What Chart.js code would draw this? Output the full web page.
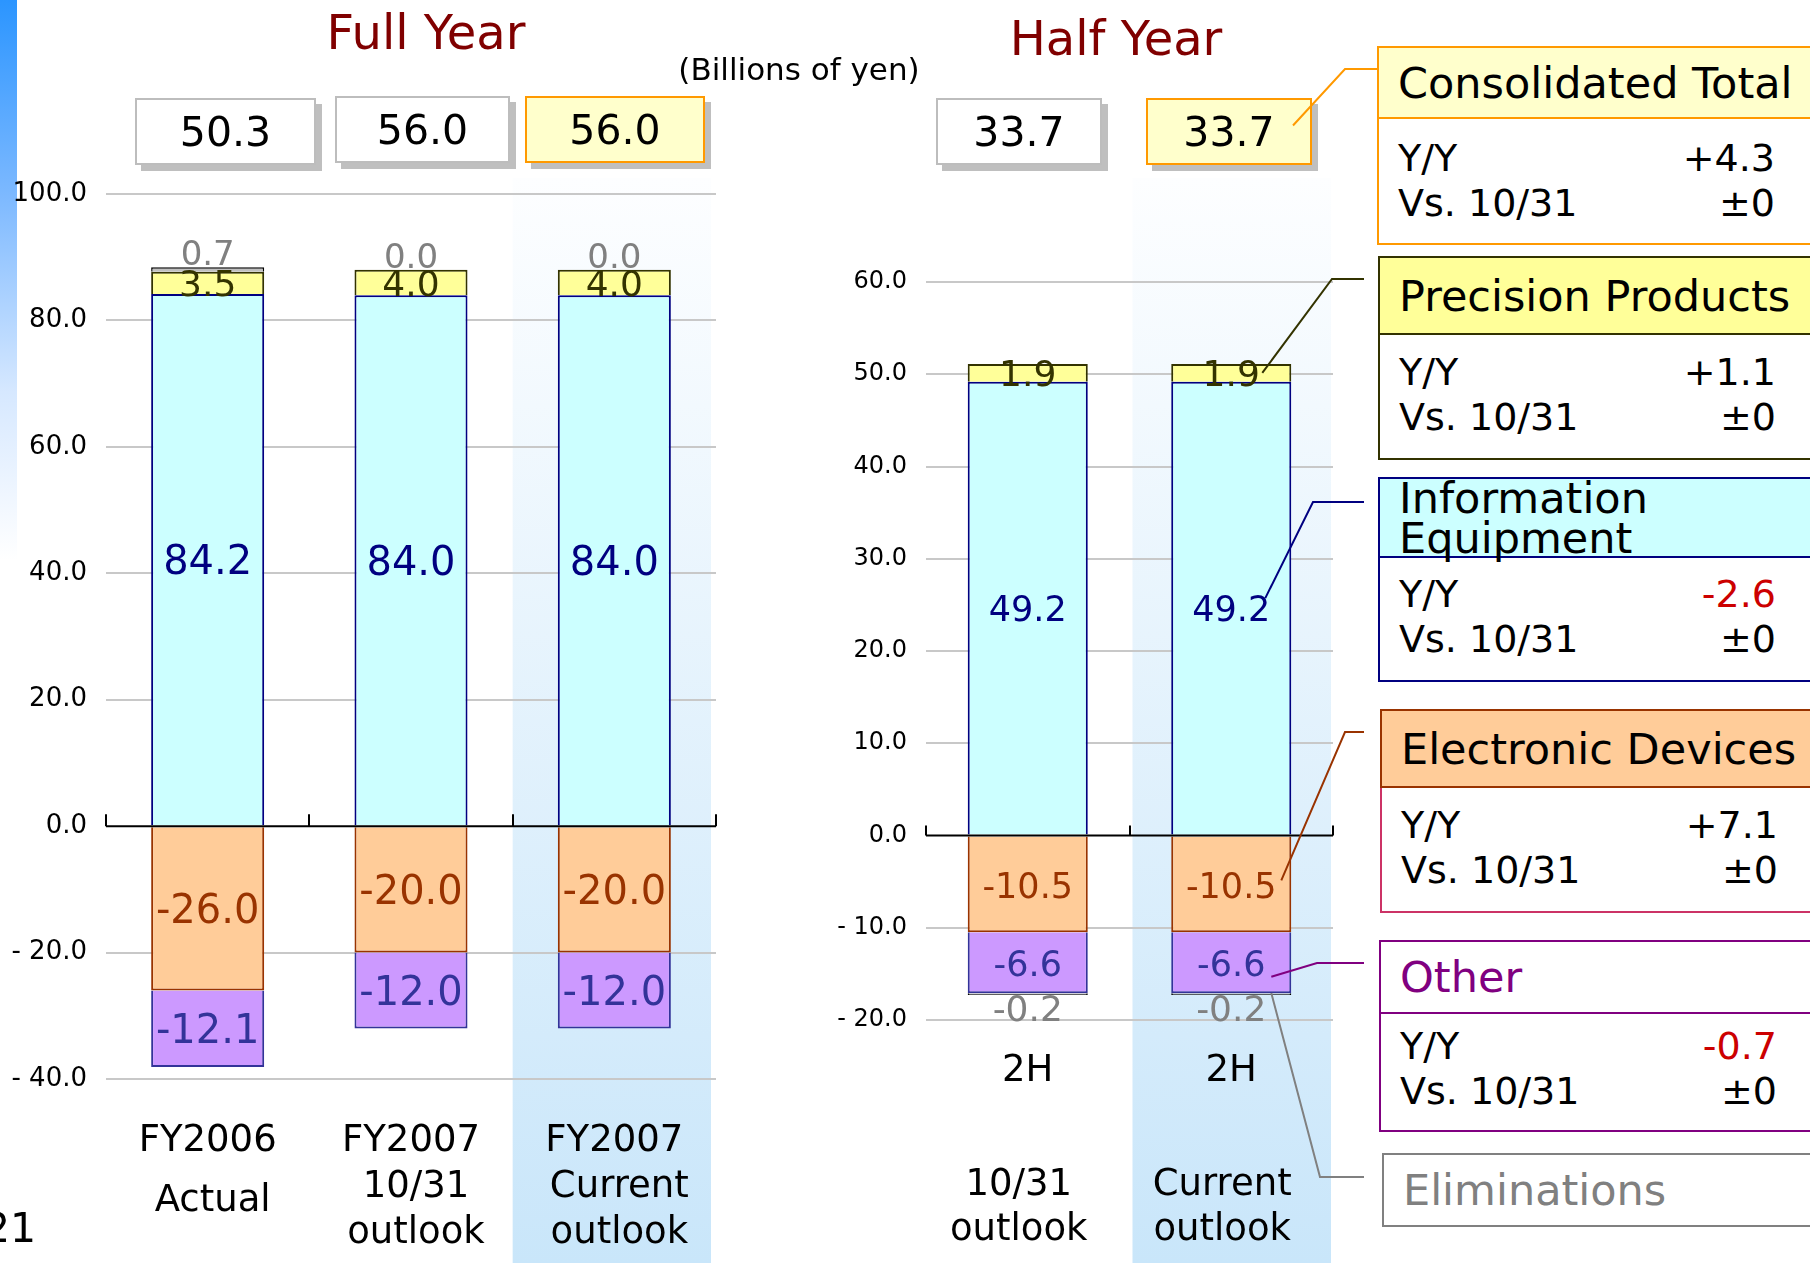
<!DOCTYPE html>
<html>
<head>
<meta charset="utf-8">
<title>Operating income by segment</title>
<script src="https://cdn.jsdelivr.net/npm/chart.js@4.4.1/dist/chart.umd.min.js"></script>
<style>
  html, body { margin:0; padding:0; background:#fff; }
  body { width:1810px; height:1263px; position:relative; overflow:hidden; font-family:"DejaVu Sans", Verdana, sans-serif; color:#000; }
  .abs { position:absolute; }
  #sidebar { left:0; top:0; width:17px; height:560px; background:linear-gradient(to bottom, #2B95FF 0%, #7DB9FF 35%, #D6E8FF 70%, #FFFFFF 100%); z-index:0; }
  canvas { position:absolute; top:0; z-index:1; }
  #cvFull { left:0; }
  #cvHalf { left:740px; }
  .title { font-size:48px; color:#800000; white-space:nowrap; transform:translate(-50%,-50%); z-index:2; line-height:1; }
  .unit { font-size:31px; white-space:nowrap; transform:translate(-50%,-50%); z-index:2; line-height:1; }
  .tot { box-sizing:border-box; border:2px solid #BDBDBD; background:#fff; box-shadow:6px 6px 0 #BFBFBF; font-size:41px; display:flex; align-items:center; justify-content:center; z-index:2; }
  .tot.cur { background:#FFFFCC; border-color:#FF9900; }
  .panel { z-index:2; width:470px; }
  .ph { box-sizing:border-box; border:2px solid; font-size:43px; display:flex; align-items:center; padding-left:19px; line-height:40px; }
  .pb { box-sizing:border-box; border:2px solid; border-top:none; background:#fff; font-size:38px; padding-left:19px; }
  .row { display:flex; justify-content:space-between; width:377px; line-height:45px; }
  #page { font-size:41px; left:-16px; top:1228px; transform:translateY(-50%); line-height:1; z-index:2; }
  svg { position:absolute; left:0; top:0; z-index:3; }
</style>
</head>
<body>
<div id="sidebar" class="abs"></div>
<canvas id="cvFull" width="740" height="1263"></canvas>
<canvas id="cvHalf" width="637" height="1263"></canvas>
<div id="page" class="abs">21</div>
<svg id="links" width="1810" height="1263"></svg>
<script>
// ---------------- DATA ----------------
const fullCategories = ["FY2006", "FY2007", "FY2007"];
const fullSubLabels = [["Actual"], ["10/31", "outlook"], ["Current", "outlook"]];
const fullInfo = [84.2, 84.0, 84.0];
const fullPrecision = [3.5, 4.0, 4.0];
const fullElectronic = [-26.0, -20.0, -20.0];
const fullOther = [-12.1, -12.0, -12.0];
const fullElim = [0.7, 0.0, 0.0];
const fullTotals = [50.3, 56.0, 56.0];
const fullYTicks = [-40, -20, 0, 20, 40, 60, 80, 100];

const halfCategories = ["2H", "2H"];
const halfSubLabels = [["10/31", "outlook"], ["Current", "outlook"]];
const halfInfo = [49.2, 49.2];
const halfPrecision = [1.9, 1.9];
const halfElectronic = [-10.5, -10.5];
const halfOther = [-6.6, -6.6];
const halfElim = [-0.2, -0.2];
const halfTotals = [33.7, 33.7];
const halfYTicks = [-20, -10, 0, 10, 20, 30, 40, 50, 60];

const panelTitles = ["Consolidated Total", "Precision Products", "Information\nEquipment", "Electronic Devices", "Other", "Eliminations"];
const yoyChange = [4.3, 1.1, -2.6, 7.1, -0.7];
const vsOct31 = [0, 0, 0, 0, 0];
const rowLabels = ["Y/Y", "Vs. 10/31"];

// ---------------- HELPERS ----------------
Chart.defaults.font.family = "'DejaVu Sans', Verdana, sans-serif";
const fmt1 = v => v.toFixed(1);
const tickFmt = v => (v < 0 ? "- " + Math.abs(v).toFixed(1) : v.toFixed(1));

function mkDatasets(info, prec, elec, other, elim, sz) {
  return [
    { label: "Information Equipment", data: info, backgroundColor: "#CCFFFF", borderColor: "#000080", borderWidth: 2, labelColor: "#000080", labelSize: sz[0] },
    { label: "Precision Products", data: prec, backgroundColor: "#FFFF99", borderColor: "#333300", borderWidth: 2, labelColor: "#333300", labelSize: sz[1] },
    { label: "Electronic Devices", data: elec, backgroundColor: "#FFCC99", borderColor: "#993300", borderWidth: 2, labelColor: "#993300", labelSize: sz[0] },
    { label: "Other", data: other, backgroundColor: "#CC99FF", borderColor: "#333399", borderWidth: 2, labelColor: "#333399", labelSize: sz[0] },
    { label: "Eliminations", data: elim, backgroundColor: "#C0C0C0", borderColor: "#000000", borderWidth: 1.5, labelColor: "#808080", labelSize: sz[2], isElim: true }
  ];
}

function decoPlugin(cfg) {
  return {
    id: "deco",
    beforeDraw(chart) {
      const { ctx } = chart; const x = chart.scales.x;
      const n = chart.data.labels.length; const w = x.width / n;
      const i = cfg.highlightIndex;
      const l = x.left + i * w + cfg.hlInsetL, r = x.left + (i + 1) * w - cfg.hlInsetR;
      const g = ctx.createLinearGradient(0, cfg.hlTop, 0, chart.height);
      g.addColorStop(0, "#FDFEFF"); g.addColorStop(1, "#C9E6FA");
      ctx.save(); ctx.fillStyle = g; ctx.fillRect(l, cfg.hlTop, r - l, chart.height - cfg.hlTop); ctx.restore();
    },
    afterDatasetsDraw(chart) {
      const { ctx, chartArea } = chart; const x = chart.scales.x, y = chart.scales.y;
      const n = chart.data.labels.length; const w = x.width / n;
      const y0 = y.getPixelForValue(0);
      ctx.save();
      ctx.strokeStyle = "#000"; ctx.lineWidth = 2;
      ctx.beginPath(); ctx.moveTo(chartArea.left, y0); ctx.lineTo(chartArea.right, y0); ctx.stroke();
      for (let k = 0; k <= n; k++) {
        const px = Math.round(x.left + k * w);
        ctx.beginPath(); ctx.moveTo(px, y0); ctx.lineTo(px, y0 - cfg.tickUp); ctx.stroke();
      }
      // value labels
      ctx.textAlign = "center"; ctx.textBaseline = "middle";
      const dss = chart.data.datasets;
      dss.forEach((ds, di) => {
        const meta = chart.getDatasetMeta(di);
        meta.data.forEach((bar, i) => {
          const v = ds.data[i];
          let ty;
          if (ds.isElim) {
            if (v >= 0) {
              let s = 0; dss.forEach(d => { if (d.data[i] > 0) s += d.data[i]; });
              ty = y.getPixelForValue(s) - cfg.elimUp;
            } else {
              let s = 0; dss.forEach(d => { if (d.data[i] < 0) s += d.data[i]; });
              ty = y.getPixelForValue(s) + cfg.elimDown;
            }
          } else {
            ty = (bar.y + bar.base) / 2;
          }
          ctx.font = ds.labelSize + "px 'DejaVu Sans', Verdana, sans-serif";
          ctx.fillStyle = ds.labelColor;
          ctx.fillText(fmt1(v), bar.x, ty + 4);
        });
      });
      ctx.restore();
    },
    afterDraw(chart) {
      const { ctx } = chart; const x = chart.scales.x;
      ctx.save();
      ctx.font = cfg.catSize + "px 'DejaVu Sans', Verdana, sans-serif";
      ctx.fillStyle = "#000"; ctx.textAlign = "center"; ctx.textBaseline = "middle";
      cfg.subLabels.forEach((lines, i) => {
        const cx = x.getPixelForValue(i) + cfg.subDx;
        const sy = lines.length === 1 ? cfg.subSingleY : cfg.subY;
        lines.forEach((t, k) => ctx.fillText(t, cx, sy + k * cfg.subLH));
      });
      ctx.restore();
    }
  };
}

function mkChart(id, labels, datasets, yTicks, opt) {
  return new Chart(document.getElementById(id), {
    type: "bar",
    data: { labels: labels, datasets: datasets },
    options: {
      responsive: false, animation: false, devicePixelRatio: 1,
      layout: { padding: { left: 0, right: opt.padRight, top: opt.padTop, bottom: 0 } },
      plugins: { legend: { display: false }, tooltip: { enabled: false } },
      datasets: { bar: { categoryPercentage: 1, barPercentage: opt.barPct } },
      scales: {
        x: {
          stacked: true, offset: true,
          grid: { display: false, drawTicks: false }, border: { display: false },
          ticks: { color: "#000", font: { size: opt.catSize }, padding: opt.xPad, maxRotation: 0, autoSkip: false },
          afterFit: s => { s.height = opt.xHeight; }
        },
        y: {
          stacked: true, min: yTicks[0], max: yTicks[yTicks.length - 1],
          afterBuildTicks: s => { s.ticks = yTicks.map(v => ({ value: v })); },
          grid: { color: c => (c.tick && c.tick.value === 0 ? "rgba(0,0,0,0)" : "#C8C8C8"), lineWidth: 2, drawTicks: false },
          border: { display: false },
          ticks: { color: "#000", font: { size: opt.yTickSize }, padding: 19, callback: v => tickFmt(v) },
          afterFit: s => { s.width = opt.yWidth; }
        }
      }
    },
    plugins: [decoPlugin(opt)]
  });
}

// ---------------- CHARTS ----------------
const fullChart = mkChart("cvFull", fullCategories,
  mkDatasets(fullInfo, fullPrecision, fullElectronic, fullOther, fullElim, [40, 36, 34]), fullYTicks,
  { padRight: 24, padTop: 194, xHeight: 184, yWidth: 106, barPct: 0.556, catSize: 37, xPad: 40, yTickSize: 26,
    highlightIndex: 2, hlInsetL: 0, hlInsetR: 5, hlTop: 178, tickUp: 12, elimUp: 15, elimDown: 13,
    subLabels: fullSubLabels, subDx: 5, subY: 1187, subSingleY: 1201, subLH: 46 });

const halfChart = mkChart("cvHalf", halfCategories,
  mkDatasets(halfInfo, halfPrecision, halfElectronic, halfOther, halfElim, [35, 36, 36]), halfYTicks,
  { padRight: 44, padTop: 282, xHeight: 243, yWidth: 186, barPct: 0.59, catSize: 37, xPad: 29, yTickSize: 24,
    highlightIndex: 1, hlInsetL: 3, hlInsetR: 2, hlTop: 178, tickUp: 10, elimUp: 15, elimDown: 13,
    subLabels: halfSubLabels, subDx: -9, subY: 1185, subSingleY: 1185, subLH: 45 });

// ---------------- HTML TEXT / BOXES ----------------
function addDiv(cls, text, css) {
  const d = document.createElement("div");
  d.className = "abs " + cls; d.textContent = text;
  Object.assign(d.style, css); document.body.appendChild(d); return d;
}
addDiv("title", "Full Year", { left: "426px", top: "32px" });
addDiv("title", "Half Year", { left: "1116px", top: "38px" });
addDiv("unit", "(Billions of yen)", { left: "799px", top: "69px" });

const fullBoxGeom = [[135, 98, 181, 67], [335, 96, 175, 67], [525, 96, 180, 67]];
const halfBoxGeom = [[936, 98, 166, 67], [1146, 98, 166, 67]];
const totBoxes = [];
fullTotals.forEach((v, i) => {
  const g = fullBoxGeom[i];
  totBoxes.push(addDiv("tot" + (i === 2 ? " cur" : ""), fmt1(v), { left: g[0] + "px", top: g[1] + "px", width: g[2] + "px", height: g[3] + "px" }));
});
halfTotals.forEach((v, i) => {
  const g = halfBoxGeom[i];
  totBoxes.push(addDiv("tot" + (i === 1 ? " cur" : ""), fmt1(v), { left: g[0] + "px", top: g[1] + "px", width: g[2] + "px", height: g[3] + "px" }));
});

// legend panels
const panelStyle = [
  { left: 1377, top: 46, hh: 73, bh: 126, hb: "#FF9900", bb: "#FF9900", bg: "#FFFFCC", tc: "#000", pt: 16.5 },
  { left: 1378, top: 256, hh: 79, bh: 125, hb: "#333300", bb: "#333300", bg: "#FFFF99", tc: "#000", pt: 14.5 },
  { left: 1378, top: 477, hh: 81, bh: 124, hb: "#000080", bb: "#000080", bg: "#CCFFFF", tc: "#000", pt: 13.5 },
  { left: 1380, top: 709, hh: 79, bh: 125, hb: "#993300", bb: "#CC3366", bg: "#FFCC99", tc: "#000", pt: 14.5 },
  { left: 1379, top: 940, hh: 74, bh: 118, hb: "#800080", bb: "#800080", bg: "#FFFFFF", tc: "#800080", pt: 9.5 },
  { left: 1382, top: 1153, hh: 74, bh: 0, hb: "#808080", bb: "#808080", bg: "#FFFFFF", tc: "#808080", pt: 0 }
];
const fmtChange = v => (v > 0 ? "+" + v.toFixed(1) : v < 0 ? v.toFixed(1) : "\u00B10");
panelTitles.forEach((t, i) => {
  const s = panelStyle[i];
  const p = document.createElement("div");
  p.className = "abs panel"; p.style.left = s.left + "px"; p.style.top = s.top + "px";
  const h = document.createElement("div");
  h.className = "ph"; h.style.height = s.hh + "px"; h.style.borderColor = s.hb; h.style.background = s.bg; h.style.color = s.tc;
  h.innerHTML = t.split("\n").join("<br>");
  p.appendChild(h);
  if (i < yoyChange.length) {
    const b = document.createElement("div");
    b.className = "pb"; b.style.height = s.bh + "px"; b.style.borderColor = s.bb; b.style.paddingTop = s.pt + "px";
    const vals = [yoyChange[i], vsOct31[i]];
    rowLabels.forEach((rl, k) => {
      const r = document.createElement("div"); r.className = "row";
      const a = document.createElement("span"); a.textContent = rl;
      const c = document.createElement("span"); c.textContent = fmtChange(vals[k]);
      if (vals[k] < 0) c.style.color = "#CC0000";
      r.appendChild(a); r.appendChild(c); b.appendChild(r);
    });
    p.appendChild(b);
  }
  document.body.appendChild(p);
});

// ---------------- CONNECTOR LINES ----------------
(function () {
  const svg = document.getElementById("links");
  const off = 740, ci = 1;
  const el = d => halfChart.getDatasetMeta(d).data[ci];
  const mid = e => (e.y + e.base) / 2;
  const bx = el(0).x + off;
  let neg = 0; [halfElectronic, halfOther, halfElim].forEach(a => { neg += a[ci]; });
  const bottom = halfChart.scales.y.getPixelForValue(neg);
  const tb = totBoxes[4];
  const tbx = parseFloat(tb.style.left) + parseFloat(tb.style.width) - 19;
  const tby = parseFloat(tb.style.top) + parseFloat(tb.style.height) / 2 - 6;
  const links = [
    { c: "#FF9900", p: [[tbx, tby], [1345, 69], [1377, 69]] },
    { c: "#333300", p: [[bx + 31, mid(el(1))], [1332, 279], [1364, 279]] },
    { c: "#000080", p: [[bx + 34, mid(el(0)) - 10], [1313, 502], [1364, 502]] },
    { c: "#993300", p: [[bx + 50, mid(el(2)) - 4], [1345, 732], [1364, 732]] },
    { c: "#800080", p: [[bx + 40, mid(el(3)) + 14], [1317, 963], [1364, 963]] },
    { c: "#808080", p: [[bx + 40, bottom - 2], [1320, 1177], [1364, 1177]] }
  ];
  links.forEach(l => {
    const pl = document.createElementNS("http://www.w3.org/2000/svg", "polyline");
    pl.setAttribute("points", l.p.map(q => q[0].toFixed(1) + "," + q[1].toFixed(1)).join(" "));
    pl.setAttribute("fill", "none"); pl.setAttribute("stroke", l.c); pl.setAttribute("stroke-width", "2");
    svg.appendChild(pl);
  });
})();
</script>
</body>
</html>
